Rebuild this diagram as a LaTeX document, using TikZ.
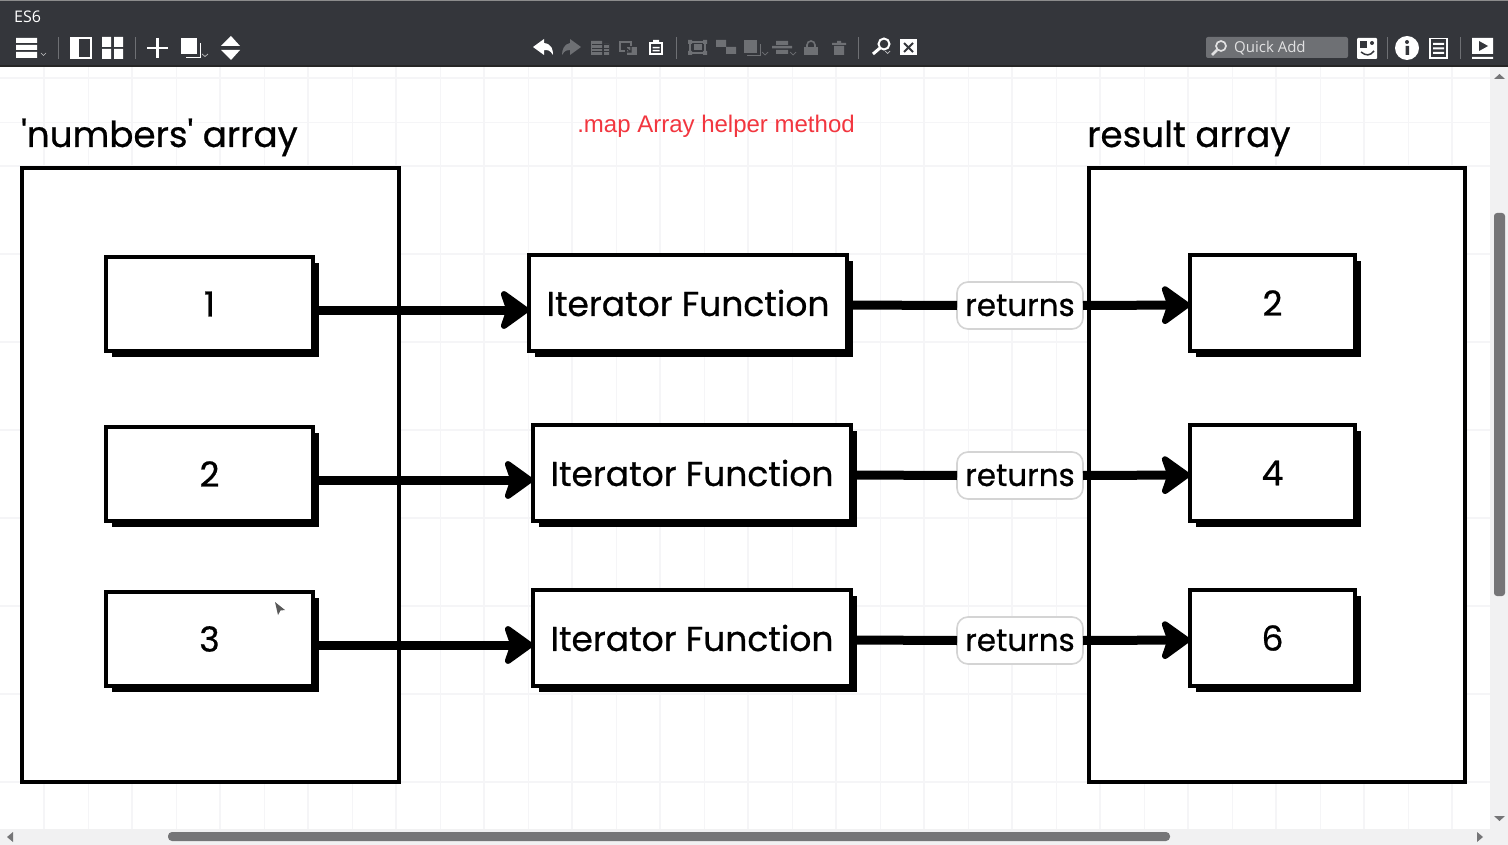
\documentclass[tikz,border=0pt]{standalone}
\usepackage{fontspec}
\setmainfont[RawFeature={embolden=0.7}]{Poppins}
\newfontfamily\uifont{Open Sans}
\newfontfamily\titlefont{Liberation Sans}
\usetikzlibrary{arrows.meta,shadows}
\definecolor{barcol}{HTML}{34363B}
\definecolor{gridcol}{HTML}{F5F5F7}
\definecolor{redcol}{HTML}{F2363F}
\definecolor{dimcol}{HTML}{6E7074}
\definecolor{trackcol}{HTML}{F1F1F2}
\definecolor{thumbcol}{HTML}{757577}
\tikzset{
	arraybox/.style={draw=black, fill=white, line width=4.5pt},
	itembox/.style={draw=black, fill=white, line width=4pt, outer sep=0pt, inner sep=0pt, font=\fontsize{34.5}{36}\selectfont,
		general shadow={fill=black, shadow xshift=6pt, shadow yshift=-6pt}},
	retbox/.style={draw=black!17, fill=white, line width=1.6pt, rounded corners=11pt, outer sep=0pt, inner sep=0pt, minimum width=126pt, minimum height=47pt, font=\fontsize{31}{32}\selectfont},
	flow/.style={line width=9pt, draw=black},
	flowtip/.style={flow, -{Stealth[length=33pt, width=47pt, inset=8pt, round]}},
	heading/.style={anchor=base west, inner sep=0pt, font=\fontsize{35.7}{38}\selectfont},
	iconw/.style={fill=white, draw=none},
	icong/.style={fill=dimcol, draw=none},
	sepline/.style={draw=dimcol, line width=1pt},
	caret/.style={draw=white!70!barcol, line width=.7pt}
}
\begin{document}
\begin{tikzpicture}[x=1pt, y=-1pt, >=Stealth]
	\useasboundingbox (0,0) rectangle (1508,845);
	\fill[white] (0,0) rectangle (1508,845);
	% canvas grid
	\foreach \x in {88,176,...,1480} \draw[gridcol, line width=.8pt] (\x,66) -- (\x,829);
	\foreach \x in {44,132,...,1480} \draw[gridcol, line width=1.6pt] (\x,66) -- (\x,829);
	\draw[gridcol, line width=.8pt] (0,122) -- (1490,122);
	\foreach \y in {78,166,...,820} \draw[gridcol, line width=1.6pt] (0,\y) -- (1490,\y);
	% toolbar
	\fill[barcol] (0,0) rectangle (1508,66);
	\fill[black!45] (0,0) rectangle (1508,1.5);
	\fill[black!85] (0,65) rectangle (1508,67);
	\node[anchor=base west, inner sep=0pt, text=white, font=\uifont\fontsize{16}{17}\selectfont] (filename) at (14,23) {ES6};
	\fill[iconw] (16,38) rectangle (37,43) (16,45) rectangle (37,50) (16,52) rectangle (37,58);
	\draw[caret] (41,53) -- (43.5,55.5) -- (46,53);
	\draw[sepline] (58,37) -- (58,59) (135,37) -- (135,59) (676,37) -- (676,59) (858,37) -- (858,59) (1387,37) -- (1387,59) (1460,37) -- (1460,59);
	\draw[white, line width=1.5pt] (71,38) rectangle (91,58);
	\fill[iconw] (71,38) rectangle (79,58);
	\fill[iconw] (102,37) rectangle (111,47) (114,37) rectangle (123,47) (102,49) rectangle (111,59) (114,49) rectangle (123,59);
	\draw[white, line width=2.5pt] (147,48) -- (168,48) (157.5,38) -- (157.5,58);
	\fill[iconw] (181,38) rectangle (197,54);
	\draw[white, line width=1pt] (186,57.5) -- (200,57.5) -- (200,43);
	\draw[caret] (202,54) -- (205,56.5) -- (208,54);
	\fill[iconw] (231,36) -- (240,46) -- (221,46) -- cycle (221,50) -- (240,50) -- (231,60) -- cycle;
	% edit icons
	\fill[iconw] (533,47) -- (544,39) -- (544,43) .. controls (552,44) and (553,50) .. (553,55) .. controls (550,50) and (548,50) .. (544,50) -- (544,55) -- cycle;
	\fill[icong] (581,47) -- (570,39) -- (570,43) .. controls (564,44) and (562,50) .. (562,55) .. controls (565,50) and (567,50) .. (570,50) -- (570,55) -- cycle;
	\fill[icong] (591,41) rectangle (602,55) (604,44) rectangle (609,55);
	\draw[barcol, line width=.8pt] (592,44.5) -- (609,44.5) (592,48) -- (609,48) (592,51.5) -- (609,51.5);
	\draw[dimcol, line width=1.5pt] (620,42) rectangle (631,51);
	\fill[barcol] (625,46) rectangle (638,56);
	\fill[icong] (627,47) rectangle (637,55);
	\draw[barcol, line width=1.2pt] (622,45) -- (631,52) (631,47) -- (631,52) -- (626,52);
	\draw[white, line width=1.5pt] (650,43) rectangle (662,54);
	\fill[iconw] (653,40) rectangle (659,44) (652.5,47) rectangle (659.5,48.5) (652.5,50) rectangle (659.5,51.5);
	\draw[dimcol, line width=1.2pt] (690,42) rectangle (705,53);
	\fill[icong] (688,40) rectangle (692,44) (703,40) rectangle (707,44) (688,51) rectangle (692,55) (703,51) rectangle (707,55);
	\fill[icong] (694,44) rectangle (702,50);
	\fill[icong] (716,40) rectangle (726,47) (726,47) rectangle (736,54);
	\fill[icong] (744,40) rectangle (757,53);
	\draw[dimcol, line width=1pt] (747,56) -- (760,56) -- (760,44);
	\draw[caret, dimcol] (762,52) -- (765,55) -- (768,52);
	\fill[icong] (772,46) rectangle (792,48.5) (776,41) rectangle (788,45) (776,50) rectangle (788,54);
	\draw[caret, dimcol] (790,52) -- (793,55) -- (796,52);
	\draw[dimcol, line width=1.6pt] (807,48) -- (807,45) arc (180:360:4) -- (815,48);
	\fill[icong] (804,47) rectangle (818,55);
	\fill[icong] (832,43) rectangle (846,45) (834,46) rectangle (844,55) (837,41) rectangle (841,43);
	\draw[white, line width=2pt] (884,44) circle (5.5);
	\draw[white, line width=3pt] (880,48) -- (873,54);
	\draw[caret] (885,51) -- (887.5,53.5) -- (890,51);
	\fill[iconw] (900,39) rectangle (917,55);
	\draw[barcol, line width=2pt] (904,43) -- (913,52) (913,43) -- (904,52);
	% quick add and right icons
	\fill[dimcol, rounded corners=2pt] (1206,37) rectangle (1348,58);
	\draw[white!85!barcol, line width=1.7pt] (1221,46) circle (5);
	\draw[white!85!barcol, line width=2.5pt] (1217,50) -- (1212,55);
	\node[anchor=base west, inner sep=0pt, text=white!85!barcol, font=\uifont\fontsize{15}{16}\selectfont] (quickadd) at (1234,53) {Quick Add};
	\fill[iconw, rounded corners=1pt] (1357,38) rectangle (1377,59);
	\fill[barcol] (1360,41) rectangle (1367,48);
	\fill[barcol] (1372,43) circle (2);
	\draw[barcol, line width=1.5pt] (1361,52) .. controls (1366,56) and (1370,56) .. (1374,51);
	\fill[iconw] (1407,48) circle (12);
	\fill[barcol] (1405.5,46) rectangle (1409,55) (1407,42) circle (2);
	\draw[white, line width=1.5pt] (1430,38.5) rectangle (1447,58);
	\fill[iconw] (1433,43) rectangle (1444,45) (1433,47.5) rectangle (1444,49.5) (1433,52) rectangle (1444,54);
	\fill[iconw] (1472,38) rectangle (1493,54) (1472,57) rectangle (1493,59);
	\fill[barcol] (1479,41) -- (1488,46) -- (1479,51) -- cycle;
	% scroll bars
	\fill[trackcol] (1490,67) rectangle (1508,845);
	\fill[trackcol] (0,829) rectangle (1508,845);
	\fill[thumbcol, rounded corners=3pt] (1494,213) rectangle (1505,596);
	\fill[thumbcol, rounded corners=4pt] (168,832) rectangle (1170,841);
	\fill[thumbcol] (1499.5,74) -- (1505,79) -- (1494,79) -- cycle (1494,816) -- (1505,816) -- (1499.5,821) -- cycle;
	\fill[thumbcol] (7,837) -- (13,832) -- (13,842) -- cycle (1477,832) -- (1483,837) -- (1477,842) -- cycle;
	% headings
	\node[heading] (numtitle) at (21,147) {\textquotesingle numbers\textquotesingle{} array};
	\node[heading] (restitle) at (1087,147) {result array};
	\node[anchor=base, inner sep=0pt, text=redcol, font=\titlefont\fontsize{24}{26}\selectfont] (maptitle) at (716,133) {.map Array helper method};
	% the two arrays
	\draw[arraybox] (22,168) rectangle (399,782);
	\draw[arraybox] (1089,168) rectangle (1465,782);
	% rows
	\node[itembox, minimum width=207pt, minimum height=94pt] (numa) at (209.5,304) {1};
	\node[itembox, minimum width=207pt, minimum height=94pt] (numb) at (209.5,474) {2};
	\node[itembox, minimum width=207pt, minimum height=94pt] (numc) at (209.5,639) {3};
	\node[itembox, minimum width=318pt, minimum height=96pt] (itera) at (688,303) {Iterator Function};
	\node[itembox, minimum width=318pt, minimum height=96pt] (iterb) at (692,473) {Iterator Function};
	\node[itembox, minimum width=318pt, minimum height=96pt] (iterc) at (692,638) {Iterator Function};
	\node[itembox, minimum width=165pt, minimum height=96pt] (resa) at (1272.5,303) {2};
	\node[itembox, minimum width=165pt, minimum height=96pt] (resb) at (1272.5,473) {4};
	\node[itembox, minimum width=165pt, minimum height=96pt] (resc) at (1272.5,638) {6};
	\node[retbox] (reta) at (1020,305.5) {returns};
	\node[retbox] (retb) at (1020,475.5) {returns};
	\node[retbox] (retc) at (1020,640.5) {returns};
	% connectors
	\draw[flowtip] ([yshift=-6pt]numa.east) -- ([yshift=-7pt]itera.west);
	\draw[flowtip] ([yshift=-6pt]numb.east) -- ([yshift=-7pt]iterb.west);
	\draw[flowtip] ([yshift=-6pt]numc.east) -- ([yshift=-7pt]iterc.west);
	\draw[flow] ([yshift=-2pt]itera.east) -- (reta.west);
	\draw[flow] ([yshift=-2pt]iterb.east) -- (retb.west);
	\draw[flow] ([yshift=-2pt]iterc.east) -- (retc.west);
	\draw[flowtip] (reta.east) -- ([yshift=-2pt]resa.west);
	\draw[flowtip] (retb.east) -- ([yshift=-2pt]resb.west);
	\draw[flowtip] (retc.east) -- ([yshift=-2pt]resc.west);
	% mouse pointer
	\fill[black!65] (275,602) -- (285,610) -- (280.5,610.5) -- (278,615) -- cycle;
\end{tikzpicture}
\end{document}
